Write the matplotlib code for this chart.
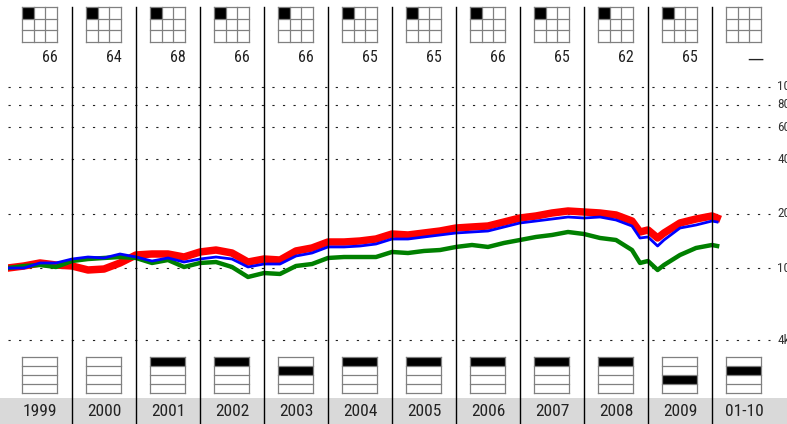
import matplotlib
matplotlib.use("Agg")
import matplotlib.pyplot as plt
from matplotlib.patches import Rectangle
from matplotlib import font_manager

# narrow sans for all labels, whichever is installed
names = {f.name for f in font_manager.fontManager.ttflist}
narrow = [n for n in ['Liberation Sans Narrow', 'Roboto Condensed', 'Open Sans Condensed',
                      'Roboto', 'DejaVu Sans'] if n in names]
plt.rcParams['font.family'] = narrow
plt.rcParams['font.stretch'] = 'condensed'

# growth of 10,000 (decimal-year dates)
dates = [1999.00, 1999.25, 1999.50, 1999.75, 2000.00, 2000.25, 2000.50, 2000.75,
         2001.00, 2001.25, 2001.50, 2001.75, 2002.00, 2002.25, 2002.50, 2002.75,
         2003.00, 2003.25, 2003.50, 2003.75, 2004.00, 2004.25, 2004.50, 2004.75,
         2005.00, 2005.25, 2005.50, 2005.75, 2006.00, 2006.25, 2006.50, 2006.75,
         2007.00, 2007.25, 2007.50, 2007.75, 2008.00, 2008.25, 2008.50, 2008.75,
         2008.875, 2009.00, 2009.15, 2009.25, 2009.50, 2009.75, 2010.00, 2010.08]
fund = [10000, 10260, 10660, 10390, 10260, 9750, 9870, 10660,
        11800, 11950, 11950, 11500, 12260, 12570, 12100, 10790,
        11210, 11070, 12420, 12900, 13920, 13920, 14100, 14460,
        15410, 15220, 15610, 16010, 16630, 16850, 17060, 17950,
        18890, 19380, 20130, 20650, 20390, 20130, 19630, 18180,
        15810, 16220, 14650, 15610, 17730, 18650, 19380, 18890]
category = [10000, 10000, 10660, 10660, 11210, 11500, 11360, 11950,
            11500, 10930, 11360, 10790, 11210, 11500, 11210, 10130,
            10520, 10520, 11650, 12100, 13070, 13070, 13230, 13570,
            14460, 14460, 14840, 15220, 15610, 15810, 16010, 16850,
            17730, 18180, 18650, 19130, 18890, 19130, 18420, 17060,
            14650, 14840, 13230, 14280, 16630, 17280, 18180, 17950]
index = [10000, 10260, 10390, 10130, 10930, 11210, 11360, 11500,
         11360, 10660, 11070, 10130, 10660, 10790, 10130, 8920,
         9380, 9270, 10260, 10520, 11360, 11500, 11500, 11500,
         12260, 12100, 12420, 12570, 13070, 13400, 13070, 13750,
         14280, 14840, 15220, 15810, 15410, 14650, 14280, 12570,
         10660, 10930, 9750, 10390, 11800, 12900, 13400, 13230]

year_labels = ['1999', '2000', '2001', '2002', '2003', '2004',
               '2005', '2006', '2007', '2008', '2009', '01-10']
style_pct = ['66', '64', '68', '66', '66', '65', '65', '66', '65', '62', '65', '\u2014']
style_cell = [0, 0, 0, 0, 0, 0, 0, 0, 0, 0, 0, None]      # filled cell of 3x3 box
quartile = [None, None, 1, 1, 2, 1, 1, 1, 1, 1, 3, 2]     # filled row (1 = top)

grid_vals = [4000, 10000, 20000, 40000, 60000, 80000, 100000]
grid_labels = ['4k', '10k', '20k', '40k', '60k', '80k', '100k']

W, H = 787, 424
fig = plt.figure(figsize=(W / 100, H / 100), dpi=100)

# data axes: one column = 64 px, 10k at y=268, one decade = 181 px
ax = fig.add_axes([8 / W, 0, 768 / W, 1])
ax.set_yscale('log')
ax.set_xlim(1999, 2011)
ax.set_ylim(10 ** (4 - 156 / 181), 10 ** (4 + 268 / 181))
ax.axis('off')

ax.hlines(grid_vals, 1999.0, 2010.9, colors='#222222', lw=0.8,
          linestyles=[(0, (2, 7.5))])
for v, lab in zip(grid_vals, grid_labels):
    ax.text(2011.02, v, lab, ha='left', va='center', fontsize=9.5,
            color='#333333', clip_on=False)

ax.plot(dates, fund, color='#ff0000', lw=5.4, solid_joinstyle='round', zorder=3)
ax.plot(dates, index, color='#008000', lw=3.2, solid_joinstyle='round', zorder=4)
ax.plot(dates, category, color='#0000ff', lw=2.0, solid_joinstyle='round', zorder=5)

# pixel overlay for column dividers, style boxes and quartile boxes
ov = fig.add_axes([0, 0, 1, 1])
ov.set_xlim(0, W)
ov.set_ylim(H, 0)
ov.axis('off')
ov.patch.set_visible(False)

ov.add_patch(Rectangle((0, 398), W, 26, color='#d9d9d9', lw=0, zorder=1))
for i in range(1, 12):
    x = 8 + 64 * i - 0.5
    ov.plot([x, x], [7, H], color='black', lw=1.0, zorder=2)

box_c = '#808080'
for i in range(12):
    left = 8 + 64 * i + 14
    # 3x3 style box
    top, size = 7, 35
    cs = size / 3
    if style_cell[i] is not None:
        r, c = divmod(style_cell[i], 3)
        ov.add_patch(Rectangle((left + c * cs, top + r * cs), cs, cs,
                               color='black', lw=0, zorder=3))
    for k in range(4):
        ov.plot([left, left + size], [top + k * cs] * 2, color=box_c, lw=0.9, zorder=4)
        ov.plot([left + k * cs] * 2, [top, top + size], color=box_c, lw=0.9, zorder=4)
    if style_pct[i] == '\u2014':
        ov.text(left + size + 2, 59, style_pct[i], ha='right', va='center',
                fontsize=13, color='#222222', family='DejaVu Sans')
    else:
        ov.text(left + size + 1, 58, style_pct[i], ha='right', va='center',
                fontsize=11.5, color='#222222')

    # quartile box with 4 rows
    qt, qh = 357, 36
    rh = qh / 4
    if quartile[i] is not None:
        ov.add_patch(Rectangle((left, qt + (quartile[i] - 1) * rh), size, rh,
                               color='black', lw=0, zorder=3))
    for k in range(5):
        ov.plot([left, left + size], [qt + k * rh] * 2, color=box_c, lw=0.9, zorder=4)
    for xx in (left, left + size):
        ov.plot([xx, xx], [qt, qt + qh], color=box_c, lw=0.9, zorder=4)

    ov.text(8 + 64 * i + 32, 411.5, year_labels[i], ha='center', va='center',
            fontsize=12.5, color='#222222', zorder=5)

fig.savefig('out.png', dpi=100)
